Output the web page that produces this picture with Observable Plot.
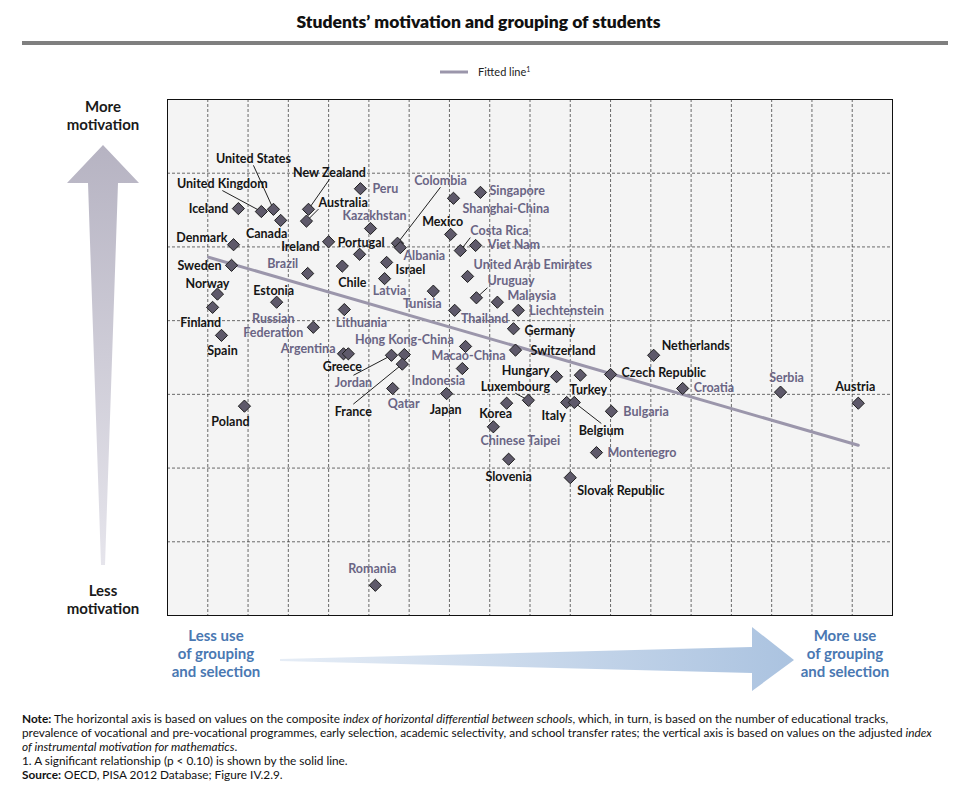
<!DOCTYPE html>
<html>
<head>
<meta charset="utf-8">
<script src="https://cdn.jsdelivr.net/npm/d3@7"></script>
<script src="https://cdn.jsdelivr.net/npm/@observablehq/plot@0.6"></script>
<style>
  body { margin: 0; font-family: Lato, "Open Sans", sans-serif; background: #fff; width: 957px; }
  #title { height: 50px; position: relative; }
  #title h1 { margin: 0; position: absolute; top: 11px; width: 100%; text-align: center; font-size: 17.5px; font-weight: 800; color: #111; }
  #title .rule { position: absolute; left: 22px; right: 9px; top: 41px; height: 4px; background: #7f7f7f; }
  #notes { margin: 12px 20px 0 22px; font-size: 11.8px; line-height: 14px; color: #111; }
</style>
</head>
<body>
<div id="title"><h1>Students’ motivation and grouping of students</h1><div class="rule"></div></div>
<div id="chart"></div>
<div id="notes">
  <div><b>Note:</b> The horizontal axis is based on values on the composite <i>index of horizontal differential between schools</i>, which, in turn, is based on the number of educational tracks, prevalence of vocational and pre-vocational programmes, early selection, academic selectivity, and school transfer rates; the vertical axis is based on values on the adjusted <i>index of instrumental motivation for mathematics</i>.</div>
  <div>1. A significant relationship (p &lt; 0.10) is shown by the solid line.</div>
  <div><b>Source:</b> OECD, PISA 2012 Database; Figure IV.2.9.</div>
</div>
<script>
// values in grid units (x: 0-18, y: 0-7)
const countries = ["United States","United Kingdom","Canada","Iceland","New Zealand","Australia","Peru","Kazakhstan","Colombia","Albania","Ireland","Portugal","Denmark","Sweden","Norway","Finland","Spain","Brazil","Estonia","Chile","Russian\nFederation","Lithuania","Argentina","Greece","Hong Kong-China","Jordan","France","Qatar","Israel","Latvia","Tunisia","Mexico","Shanghai-China","Singapore","Costa Rica","Viet Nam","United Arab Emirates","Uruguay","Malaysia","Thailand","Liechtenstein","Germany","Macao-China","Switzerland","Indonesia","Hungary","Luxembourg","Korea","Chinese Taipei","Japan","Turkey","Czech Republic","Italy","Belgium","Bulgaria","Montenegro","Slovenia","Slovak Republic","Netherlands","Croatia","Serbia","Austria","Poland","Romania"];
const grouping = [2.63,2.33,2.81,1.76,3.50,3.45,4.79,5.04,5.71,5.78,4.00,4.77,1.64,1.59,1.24,1.12,1.34,3.48,2.71,4.34,3.62,4.39,4.37,4.49,5.88,5.56,5.83,5.59,5.44,5.39,6.60,7.03,7.10,7.77,7.27,7.65,7.45,7.67,8.19,7.13,8.71,8.59,7.40,8.64,7.32,9.66,8.96,8.42,8.09,6.93,10.25,11.00,9.91,10.10,11.02,10.65,8.47,10.00,12.07,12.79,15.22,17.15,1.91,5.16];
const motivation = [5.51,5.48,5.36,5.52,5.51,5.35,5.79,5.25,5.05,4.99,5.07,4.90,5.03,4.75,4.36,4.18,3.80,4.64,4.25,4.74,3.91,4.15,3.55,3.55,3.54,3.53,3.41,3.08,4.79,4.57,4.40,5.17,5.66,5.74,4.95,5.02,4.60,4.31,4.25,4.14,4.14,3.89,3.65,3.60,3.35,3.24,2.92,2.88,2.56,3.01,3.26,3.27,2.89,2.89,2.77,2.21,2.12,1.87,3.53,3.08,3.03,2.88,2.84,0.41];
const partners = ["Peru","Kazakhstan","Colombia","Albania","Brazil","Russian\nFederation","Lithuania","Argentina","Hong Kong-China","Jordan","Qatar","Latvia","Tunisia","Shanghai-China","Singapore","Costa Rica","Viet Nam","United Arab Emirates","Uruguay","Malaysia","Thailand","Liechtenstein","Macao-China","Indonesia","Chinese Taipei","Bulgaria","Montenegro","Croatia","Serbia","Romania"];
const fitX = [1.02, 17.15];
const fitY = [4.86, 2.31];

// label placement: [dx px, dy px, anchor, leader]
const labelPlacement = {
  "United States":[-20,-51,"middle",1],"United Kingdom":[-39,-28,"middle",1],"Canada":[-14,13,"middle"],
  "Iceland":[-10,0,"end"],"New Zealand":[21,-37,"middle",1],"Australia":[12,-19,"start",1],"Peru":[12,0,"start"],
  "Kazakhstan":[4,-13,"middle"],"Colombia":[43,-63,"middle",1],"Albania":[24,8,"middle"],"Ireland":[-9,5,"end"],
  "Portugal":[-22,-12,"start"],"Denmark":[-6,-7,"end"],"Sweden":[-10,0,"end"],"Norway":[-10,-11,"middle"],
  "Finland":[-12,15,"middle"],"Spain":[1,15,"middle"],"Brazil":[-25,-10,"middle"],"Estonia":[-3,-12,"middle"],
  "Chile":[10,16,"middle"],"Russian\nFederation":[-40,-2,"middle"],"Lithuania":[17,13,"middle"],"Argentina":[-8,-5,"end"],
  "Greece":[-6,13,"middle"],"Hong Kong-China":[0,-15,"middle"],"Jordan":[-38,27,"middle",1],"France":[-49,47,"middle",1],
  "Qatar":[11,15,"middle"],"Israel":[9,7,"start"],"Latvia":[5,12,"middle"],"Tunisia":[-11,12,"middle"],
  "Mexico":[-8,-13,"middle"],"Shanghai-China":[9,10,"start"],"Singapore":[9,-2,"start"],"Costa Rica":[10,-20,"start",1],
  "Viet Nam":[12,-1,"start"],"United Arab Emirates":[6,-12,"start"],"Uruguay":[11,-17,"start",1],"Malaysia":[10,-7,"start"],
  "Thailand":[30,8,"middle"],"Liechtenstein":[11,0,"start"],"Germany":[11,2,"start"],"Macao-China":[3,9,"middle"],
  "Switzerland":[15,0,"start"],"Indonesia":[-24,12,"middle"],"Hungary":[-7,-6,"end"],"Luxembourg":[-13,-14,"middle",1],
  "Korea":[-11,10,"middle"],"Chinese Taipei":[27,14,"middle"],"Japan":[-1,16,"middle"],"Turkey":[8,14,"middle"],
  "Czech Republic":[11,-2,"start"],"Italy":[-13,13,"middle"],"Belgium":[27,28,"middle",1],"Bulgaria":[12,0,"start"],
  "Montenegro":[11,0,"start"],"Slovenia":[0,17,"middle"],"Slovak Republic":[7,13,"start"],"Netherlands":[8,-10,"start"],
  "Croatia":[11,-1,"start"],"Serbia":[6,-15,"middle"],"Austria":[-3,-17,"middle"],"Poland":[-14,15,"middle"],"Romania":[-3,-17,"middle"]
};

const W = 957, H = 650, mL = 167, mR = 65, mT = 49, mB = 85;
const kx = (W - mL - mR) / 18, ky = (H - mT - mB) / 7;

const rows = countries.map((c, i) => {
  const [dx, dy, anchor, leader] = labelPlacement[c];
  const ly = motivation[i] - dy / ky;
  return {
    name: c, x: grouping[i], y: motivation[i],
    lx: grouping[i] + dx / kx, ly, anchor, leader: !!leader,
    ey: ly + Math.sign(dy) * 7 / ky,
    partner: partners.includes(c)
  };
});
const fit = fitX.map((x, i) => ({x, y: fitY[i]}));

const textMark = (anchor) => Plot.text(rows.filter(d => d.anchor === anchor), {
  x: "lx", y: "ly", text: "name", textAnchor: anchor, lineAnchor: "middle",
  fill: d => d.partner ? "#6a6584" : "#151515",
  fontSize: 12.5, fontWeight: 700, lineHeight: 1.1
});

const chart = Plot.plot({
  width: W, height: H,
  marginLeft: mL, marginRight: mR, marginTop: mT, marginBottom: mB,
  style: {fontFamily: "Lato, 'Open Sans', sans-serif", background: "#fff"},
  x: {domain: [0, 18], axis: null},
  y: {domain: [0, 7], axis: null},
  color: {type: "identity"},
  marks: [
    Plot.frame({fill: "#f4f4f4", stroke: null}),
    Plot.gridX(d3.range(1, 18), {stroke: "#333", strokeOpacity: 0.9, strokeDasharray: "3,2", strokeWidth: 0.8}),
    Plot.gridY(d3.range(1, 7), {stroke: "#333", strokeOpacity: 0.9, strokeDasharray: "3,2", strokeWidth: 0.8}),
    Plot.frame({stroke: "#111", strokeWidth: 1}),
    Plot.line(fit, {x: "x", y: "y", stroke: "#9b96ab", strokeWidth: 3}),
    Plot.link(rows.filter(d => d.leader), {x1: "x", y1: "y", x2: "lx", y2: "ey", stroke: "#222", strokeWidth: 1}),
    Plot.dot(rows, {x: "x", y: "y", symbol: "diamond2", r: 5.5, fill: "#5e596a", stroke: "#1e1e1e", strokeWidth: 1}),
    textMark("start"), textMark("middle"), textMark("end")
  ]
});

const svg = d3.select(chart);
const defs = svg.append("defs");
const gv = defs.append("linearGradient").attr("id", "gv").attr("x1", 0).attr("y1", 0).attr("x2", 0).attr("y2", 1);
gv.append("stop").attr("offset", 0).attr("stop-color", "#b6b3c2");
gv.append("stop").attr("offset", 1).attr("stop-color", "#e6e5ec");
const gh = defs.append("linearGradient").attr("id", "gh").attr("x1", 0).attr("y1", 0).attr("x2", 1).attr("y2", 0);
gh.append("stop").attr("offset", 0).attr("stop-color", "#e6edf6");
gh.append("stop").attr("offset", 1).attr("stop-color", "#abc3e0");

// vertical arrow
svg.append("polygon").attr("points", "103,95 139,133 118,133 105,515 101,515 88,133 67,133").attr("fill", "url(#gv)");
// horizontal arrow
svg.append("polygon").attr("points", "280,609 752,597 752,577 794,610 752,641 752,623 280,611").attr("fill", "url(#gh)");

const lbl = (x, y, lines, color) => {
  const t = svg.append("text").attr("x", x).attr("y", y).attr("text-anchor", "middle")
    .attr("font-size", 15).attr("font-weight", 700).attr("fill", color);
  lines.forEach((s, i) => t.append("tspan").attr("x", x).attr("dy", i ? 18 : 0).text(s));
};
lbl(103, 62, ["More", "motivation"], "#1a1a1a");
lbl(103, 546, ["Less", "motivation"], "#1a1a1a");
lbl(216, 591, ["Less use", "of grouping", "and selection"], "#4a78b2");
lbl(845, 591, ["More use", "of grouping", "and selection"], "#4a78b2");

// legend
svg.append("line").attr("x1", 440).attr("x2", 468).attr("y1", 22).attr("y2", 22).attr("stroke", "#9b96ab").attr("stroke-width", 3);
const lg = svg.append("text").attr("x", 478).attr("y", 26).attr("text-anchor", "start").attr("font-size", 11).attr("fill", "#222").text("Fitted line");
lg.append("tspan").attr("font-size", 7).attr("dy", -4).text("1");

document.getElementById("chart").append(chart);
</script>
</body>
</html>
